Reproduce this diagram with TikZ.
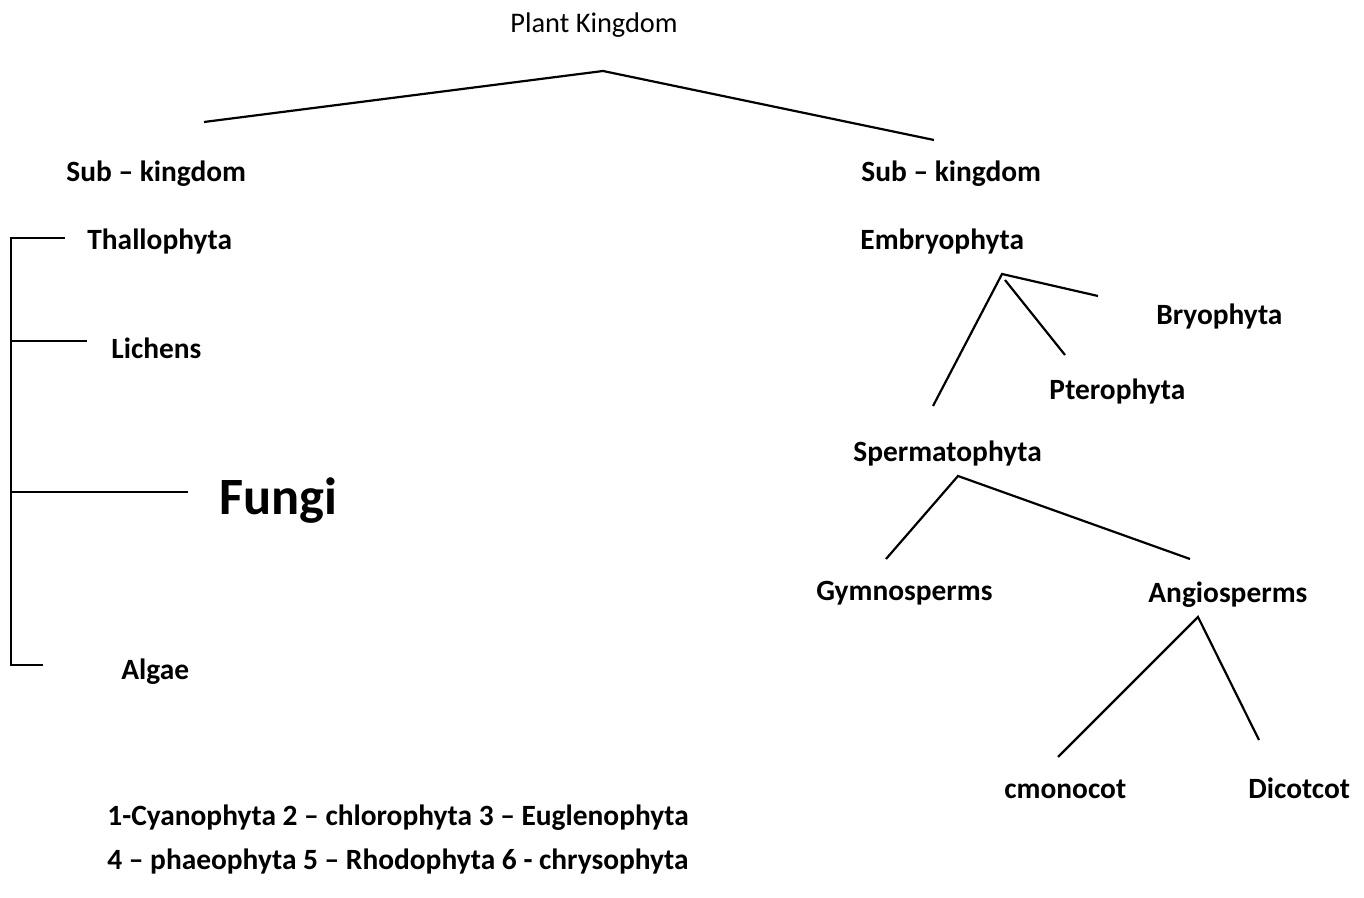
\documentclass[tikz,border=0pt]{standalone}
\usepackage{fontspec}
\setmainfont{Carlito}
\begin{document}
\begin{tikzpicture}[x=0.5pt,y=-0.5pt,
  lbl/.style={inner sep=0pt,anchor=base west,font=\fontsize{14.7pt}{17pt}\selectfont\bfseries},
  ttl/.style={inner sep=0pt,anchor=base west,font=\fontsize{14.2pt}{17pt}\selectfont},
  big/.style={inner sep=0pt,anchor=base west,font=\fontsize{26.2pt}{30pt}\selectfont\bfseries},
  ln/.style={line width=1.1pt}]
\useasboundingbox (0,0) rectangle (1364,898);
% texts
\node[ttl] (pk) at (510,33) {Plant Kingdom};
\node[lbl] (skl) at (66,182) {Sub – kingdom};
\node[lbl] (skr) at (861,182) {Sub – kingdom};
\node[lbl] (thal) at (87,250) {Thallophyta};
\node[lbl] (lich) at (111,358) {Lichens};
\node[lbl] (alg) at (121,679) {Algae};
\node[big] (fun) at (219,514) {Fungi};
\node[lbl] (emb) at (860,250) {Embryophyta};
\node[lbl] (bry) at (1156,325) {Bryophyta};
\node[lbl] (pte) at (1049,400) {Pterophyta};
\node[lbl] (spe) at (853,461) {Spermatophyta};
\node[lbl] (gym) at (816,600) {Gymnosperms};
\node[lbl] (ang) at (1148,602) {Angiosperms};
\node[lbl] (mon) at (1004,798) {cmonocot};
\node[lbl] (dic) at (1248,798) {Dicotcot};
\node[lbl] (l1) at (107,825) {1-Cyanophyta 2 – chlorophyta 3 – Euglenophyta};
\node[lbl] (l2) at (107,869) {4 – phaeophyta 5 – Rhodophyta 6 - chrysophyta};
% connector points
\coordinate (top) at (603,71);
\coordinate (tl) at (204,122);
\coordinate (tr) at (934,140);
\coordinate (vt) at (11,238);
\coordinate (vb) at (11,665);
\coordinate (vl) at (11,341);
\coordinate (vf) at (11,492);
\coordinate (hth) at (65,238);
\coordinate (hli) at (87,341);
\coordinate (hfu) at (188,492);
\coordinate (hal) at (43,665);
\coordinate (ea) at (1002,274);
\coordinate (ea2) at (1005,280);
\coordinate (eb) at (1098,296);
\coordinate (ep) at (1065,355);
\coordinate (es) at (933,406);
\coordinate (sa) at (958,476);
\coordinate (sg) at (886,559);
\coordinate (san) at (1190,559);
\coordinate (aa) at (1198,617);
\coordinate (am) at (1058,757);
\coordinate (ad) at (1259,740);
% lines
\draw[ln] (tl) -- (top) -- (tr);
\draw[ln] (hth) -- (vt) -- (vb) -- (hal);
\draw[ln] (vl) -- (hli);
\draw[ln] (vf) -- (hfu);
\draw[ln] (es) -- (ea) -- (eb);
\draw[ln] (ea2) -- (ep);
\draw[ln] (sg) -- (sa) -- (san);
\draw[ln] (am) -- (aa) -- (ad);
\end{tikzpicture}
\end{document}
